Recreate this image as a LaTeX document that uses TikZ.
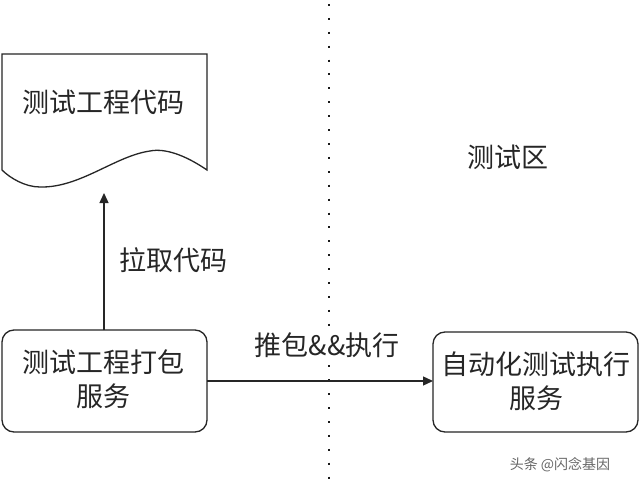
\documentclass[tikz,border=0pt]{standalone}
\usepackage{fontspec}
\newfontfamily\cjk{Noto Sans CJK SC}
\usetikzlibrary{arrows.meta}
\begin{document}
\begin{tikzpicture}[x=1pt,y=-1pt,
  txt/.style={font=\cjk\fontsize{27}{34}\selectfont, text=black!85, inner sep=0pt},
  rbox/.style={draw=black!85, line width=1.3pt, rounded corners=12pt},
  conn/.style={draw=black!85, line width=1.3pt, -{Triangle[length=10pt,width=9pt]}}]
\useasboundingbox (0,0) rectangle (640,487);
\fill[white] (0,0) rectangle (640,487);
% dotted separator
\coordinate (dtop) at (329,4);
\coordinate (dbot) at (329,487);
\draw[black!90, line width=2pt, dash pattern=on 2pt off 11.9pt, line cap=butt] (dtop) -- (dbot);
% document shape
\draw[black!85, line width=1.3pt] (2,54) -- (207,54) -- (207,170)
  .. controls (185,155) and (165,148) .. (150,151)
  .. controls (115,156) and (80,188) .. (40,187)
  .. controls (25,187) and (10,178) .. (2,170) -- cycle;
\node[txt] (code) at (104,102) {测试工程代码};
\coordinate (docb) at (104,193);
% boxes
\draw[rbox] (2,330) rectangle (207,432);
\node[txt, align=center] (pack) at (104,379) {测试工程打包\\服务};
\coordinate (packr) at (207,381);
\coordinate (packt) at (104,330);
\draw[rbox] (433,332) rectangle (638,432);
\node[txt, align=center] (exec) at (536,381) {自动化测试执行\\服务};
\coordinate (execl) at (433,381);
% connectors
\draw[conn] (packt) -- (docb);
\node[txt, anchor=west] (pull) at (119,260) {拉取代码};
\draw[conn] (packr) -- (execl);
\node[txt, fill=white, inner sep=2pt] (push) at (327,345) {推包\&\&执行};
\node[txt] (zone) at (508,157) {测试区};
\node[font=\cjk\fontsize{14}{16}\selectfont, text=black!60, inner sep=0pt] (wm) at (560,465) {头条 @闪念基因};
\end{tikzpicture}
\end{document}
